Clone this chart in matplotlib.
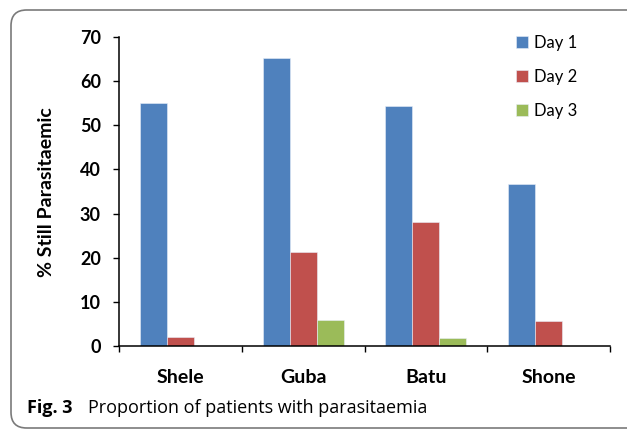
import matplotlib
matplotlib.use("Agg")
import matplotlib.pyplot as plt
from matplotlib.patches import FancyBboxPatch
import numpy as np

categories = ["Shele", "Guba", "Batu", "Shone"]
series_names = ["Day 1", "Day 2", "Day 3"]
day1 = [55.0, 65.3, 54.4, 36.6]
day2 = [2.1, 21.2, 28.0, 5.6]
day3 = [0.0, 5.8, 1.8, 0.0]
yticks = [0, 10, 20, 30, 40, 50, 60, 70]
colors = ["#4F81BD", "#C0504D", "#9BBB59"]
caption_bold = "Fig. 3"
caption_text = "Proportion of patients with parasitaemia"

W, H = 627, 429
fig = plt.figure(figsize=(W / 100, H / 100), dpi=100)

def px(x, y):
    return x / W, 1 - y / H

# rounded frame
frame = FancyBboxPatch((11 / W, 1 / H), (660 - 11) / W, (H - 10 - 1) / H,
                       boxstyle="round,pad=0,rounding_size=0.025",
                       transform=fig.transFigure, fill=False,
                       edgecolor="#7a7a7a", linewidth=1.2,
                       mutation_aspect=W / H)
fig.patches.append(frame)

left, right, top, bottom = 119, 610, 37, 346
ax = fig.add_axes([left / W, 1 - bottom / H, (right - left) / W, (bottom - top) / H])

x = np.arange(len(categories))
bw = 0.22
for i, (vals, name) in enumerate(zip([day1, day2, day3], series_names)):
    ax.bar(x + (i - 1) * bw, vals, width=bw, color=colors[i], label=name,
           edgecolor="#e8eef8", linewidth=0.4)

ax.set_xlim(-0.5, len(categories) - 0.5)
ax.set_ylim(0, 70)
ax.set_yticks(yticks)
ax.set_yticklabels([str(t) for t in yticks], fontfamily="Lato",
                   fontweight="bold", fontsize=13)
ax.set_xticks(np.arange(len(categories) + 1) - 0.5)
ax.set_xticklabels([])
ax.set_xticks(x, minor=True)
ax.set_xticklabels(categories, minor=True, fontfamily="Lato",
                   fontweight="bold", fontsize=14)
ax.tick_params(axis="x", which="major", direction="out", length=4.5, width=1)
ax.tick_params(axis="x", which="minor", length=0, pad=16.5)
ax.tick_params(axis="y", direction="out", length=4, width=1, pad=9)
for s in ["top", "right"]:
    ax.spines[s].set_visible(False)
for s in ["left", "bottom"]:
    ax.spines[s].set_linewidth(1.1)

fig.text(*px(47, 192), "% Still Parasitaemic", rotation=90, ha="center",
         va="center", fontfamily="Lato", fontweight="bold", fontsize=14)

leg = ax.legend(loc="upper left", bbox_to_anchor=px(516, 35),
                bbox_transform=fig.transFigure, frameon=False,
                prop={"family": "Lato", "size": 12},
                handlelength=0.7, handleheight=0.7, handletextpad=0.4,
                labelspacing=1.07, borderpad=0, borderaxespad=0)

fig.text(*px(27, 408), caption_bold, ha="left", va="center",
         fontfamily="Open Sans", fontweight="bold", fontsize=13)
fig.text(*px(88, 408), caption_text, ha="left", va="center",
         fontfamily="Open Sans", fontsize=13)

fig.savefig("out.png", dpi=100)
